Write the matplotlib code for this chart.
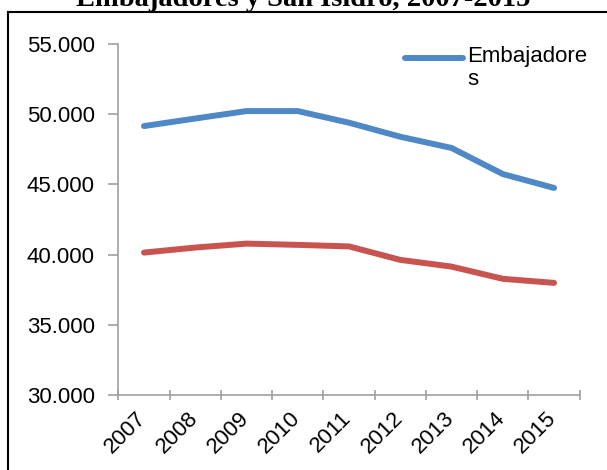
import numpy as np
import matplotlib.pyplot as plt
from matplotlib.lines import Line2D
from matplotlib.ticker import FuncFormatter
from matplotlib.transforms import ScaledTranslation

years = ['2007', '2008', '2009', '2010', '2011', '2012', '2013', '2014', '2015']
embajadores = [49160, 49700, 50230, 50230, 49400, 48400, 47600, 45740, 44750]
san_isidro = [40140, 40500, 40780, 40690, 40580, 39620, 39140, 38270, 37980]

blue = '#4f88c6'
red = '#c9544f'

plt.rcParams['font.family'] = ['Liberation Sans', 'DejaVu Sans']

fig = plt.figure(figsize=(6.07, 4.70), dpi=100)
ax = fig.add_axes([0.195, 0.16, 0.76, 0.746])

x = np.arange(len(years))
ax.plot(x, embajadores, color=blue, lw=4.3, solid_capstyle='round', solid_joinstyle='round')
ax.plot(x, san_isidro, color=red, lw=4.3, solid_capstyle='round', solid_joinstyle='round')

ax.set_xlim(-0.5, len(years) - 0.5)
ax.set_ylim(30000, 55000)
ax.set_yticks(np.arange(30000, 55001, 5000))
ax.yaxis.set_major_formatter(FuncFormatter(lambda v, p: f'{v:,.0f}'.replace(',', '.')))

ax.set_xticks(np.arange(-0.5, len(years), 1.0))
ax.set_xticklabels([])
ax.set_xticks(x, minor=True)
ax.set_xticklabels(years, minor=True, rotation=45, ha='right', rotation_mode='anchor')
ax.tick_params(axis='x', which='minor', length=0, pad=9, labelsize=16)
ax.tick_params(axis='x', which='major', length=7, width=1.2, color='#a0a0a0', direction='inout')
ax.tick_params(axis='y', length=7, width=1.2, color='#a0a0a0', labelsize=16, pad=10)

shift = ScaledTranslation(-8 / 100, 0, fig.dpi_scale_trans)
for lab in ax.get_xticklabels(minor=True):
    lab.set_transform(lab.get_transform() + shift)

for s in ['top', 'right']:
    ax.spines[s].set_visible(False)
for s in ['left', 'bottom']:
    ax.spines[s].set_color('#a0a0a0')
    ax.spines[s].set_linewidth(1.2)

# legend (only first series visible, text wrapped)
fig.add_artist(Line2D([405 / 607, 463 / 607], [1 - 58 / 470, 1 - 58 / 470],
                      color=blue, lw=4.3, solid_capstyle='round'))
fig.text(467 / 607, 1 - 46 / 470, 'Embajadore\ns', fontsize=16, va='top',
         ha='left', linespacing=1.1)

# title, mostly cut off at top
fig.text(0.5, 1 - 6 / 470, 'Embajadores y San Isidro, 2007-2015', fontsize=20.5,
         fontweight='bold', family='Liberation Serif', ha='center', va='baseline')

# border around chart
fig.add_artist(Line2D([8 / 607, 8 / 607], [0, 1 - 12 / 470], color='black', lw=1.5))
fig.add_artist(Line2D([8 / 607, 1], [1 - 12 / 470, 1 - 12 / 470], color='black', lw=1.5))

fig.savefig('out.png', dpi=100)
